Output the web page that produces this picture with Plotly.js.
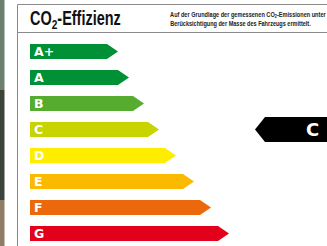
<!DOCTYPE html>
<html>
<head>
<meta charset="utf-8">
<script src="https://cdn.plot.ly/plotly-3.0.1.min.js"></script>
<style>html,body{margin:0;padding:0;background:#fff;}#chart{width:327px;height:246px;}</style>
</head>
<body>
<div id="chart"></div>
<script>
// Data
var classes = ['A+', 'A', 'B', 'C', 'D', 'E', 'F', 'G'];
var arrowLengths = [88, 99, 114, 129, 146, 164, 181, 199];
var classColors = ['#009036', '#009036', '#55ac2e', '#c8d400', '#ffed00', '#fbba00', '#eb690b', '#e2001a'];
var vehicleClass = 'C';
var titleText = 'CO<sub>2</sub>-Effizienz';
var noteLines = ['Auf der Grundlage der gemessenen CO<sub>2</sub>-Emissionen unter',
                 'Berücksichtigung der Masse des Fahrzeugs ermittelt.'];

// Layout constants
var W = 327, H = 246;
var x0 = 30;        // arrow start (px)
var tip = 11;       // arrow tip length (px)
var half = 0.29;    // half bar height (row units)
var rowPx = 26, firstRowPx = 51.5;
var yTop = -firstRowPx / rowPx;
var yBot = yTop + H / rowPx;

var traces = [];
var annotations = [];
classes.forEach(function (c, i) {
  var end = x0 + arrowLengths[i];
  traces.push({
    type: 'scatter', mode: 'lines', fill: 'toself',
    x: [x0, end - tip, end, end - tip, x0, x0],
    y: [i - half, i - half, i, i + half, i + half, i - half],
    fillcolor: classColors[i], line: {width: 0, color: classColors[i]},
    hoverinfo: 'skip', showlegend: false
  });
  annotations.push({
    x: x0 + 2, y: i, xref: 'x', yref: 'y', text: '<b>' + c + '</b>',
    showarrow: false, xanchor: 'left', yanchor: 'middle',
    font: {family: 'DejaVu Sans, Verdana, sans-serif', size: 12.5, color: '#ffffff'}
  });
});

// vehicle indicator arrow
var vi = classes.indexOf(vehicleClass);
var vHalf = 0.48, vTip = 255, vBody = 265;
traces.push({
  type: 'scatter', mode: 'lines', fill: 'toself',
  x: [vTip, vBody, W + 5, W + 5, vBody, vTip],
  y: [vi, vi - vHalf, vi - vHalf, vi + vHalf, vi + vHalf, vi],
  fillcolor: '#000000', line: {width: 0, color: '#000'},
  hoverinfo: 'skip', showlegend: false
});
annotations.push({
  x: 312.5, y: vi, xref: 'x', yref: 'y', text: '<b>' + vehicleClass + '</b>',
  showarrow: false, xanchor: 'center', yanchor: 'middle',
  font: {family: 'DejaVu Sans, Verdana, sans-serif', size: 18, color: '#ffffff'}
});

// header texts (condensed afterwards to the reference widths)
var headerFont = 'Liberation Sans, Arial, sans-serif';
var condense = [];
condense.push({idx: annotations.length, width: 91});
annotations.push({
  x: 28 / W, y: 1 - 19 / H, xref: 'paper', yref: 'paper', text: '<b>' + titleText + '</b>',
  showarrow: false, xanchor: 'left', yanchor: 'middle',
  font: {family: headerFont, size: 19.5, color: '#111'}
});
condense.push({idx: annotations.length, width: 156});
annotations.push({
  x: 168 / W, y: 1 - 15 / H, xref: 'paper', yref: 'paper', text: '<b>' + noteLines[0] + '</b>',
  showarrow: false, xanchor: 'left', yanchor: 'middle',
  font: {family: headerFont, size: 7, color: '#222'}
});
condense.push({idx: annotations.length, width: 141});
annotations.push({
  x: 168 / W, y: 1 - 24 / H, xref: 'paper', yref: 'paper', text: '<b>' + noteLines[1] + '</b>',
  showarrow: false, xanchor: 'left', yanchor: 'middle',
  font: {family: headerFont, size: 7, color: '#222'}
});

function px(x) { return x / W; }
function py(y) { return 1 - y / H; }
var lineStyle = {color: '#8a8a8a', width: 1};
var shapes = [
  {type: 'rect', xref: 'paper', yref: 'paper', x0: 0, x1: px(4.5), y0: py(0), y1: py(90), fillcolor: '#6c7e6c', line: {width: 0}, layer: 'below'},
  {type: 'rect', xref: 'paper', yref: 'paper', x0: 0, x1: px(4.5), y0: py(90), y1: py(200), fillcolor: '#3c433b', line: {width: 0}, layer: 'below'},
  {type: 'rect', xref: 'paper', yref: 'paper', x0: 0, x1: px(4.5), y0: py(200), y1: py(246), fillcolor: '#8d7c66', line: {width: 0}, layer: 'below'},
  {type: 'line', xref: 'paper', yref: 'paper', x0: px(17.5), x1: 1, y0: py(4.5), y1: py(4.5), line: lineStyle},
  {type: 'line', xref: 'paper', yref: 'paper', x0: px(17.5), x1: 1, y0: py(32.5), y1: py(32.5), line: lineStyle},
  {type: 'line', xref: 'paper', yref: 'paper', x0: px(17.5), x1: px(17.5), y0: py(4.5), y1: 0, line: lineStyle}
];

var layout = {
  width: W, height: H,
  margin: {l: 0, r: 0, t: 0, b: 0, pad: 0},
  paper_bgcolor: '#ffffff', plot_bgcolor: '#ffffff',
  xaxis: {range: [0, W], visible: false, fixedrange: true},
  yaxis: {range: [yBot, yTop], visible: false, fixedrange: true},
  showlegend: false,
  annotations: annotations,
  shapes: shapes
};
Plotly.newPlot('chart', traces, layout, {staticPlot: true, displayModeBar: false}).then(function (gd) {
  condense.forEach(function (c) {
    var g = gd.querySelector('.annotation[data-index="' + c.idx + '"] text');
    if (!g) return;
    var bb = g.getBBox();
    if (!bb.width) return;
    var s = c.width / bb.width;
    g.setAttribute('transform', 'translate(' + bb.x + ',0) scale(' + s + ',1) translate(' + (-bb.x) + ',0)');
  });
});
</script>
</body>
</html>
